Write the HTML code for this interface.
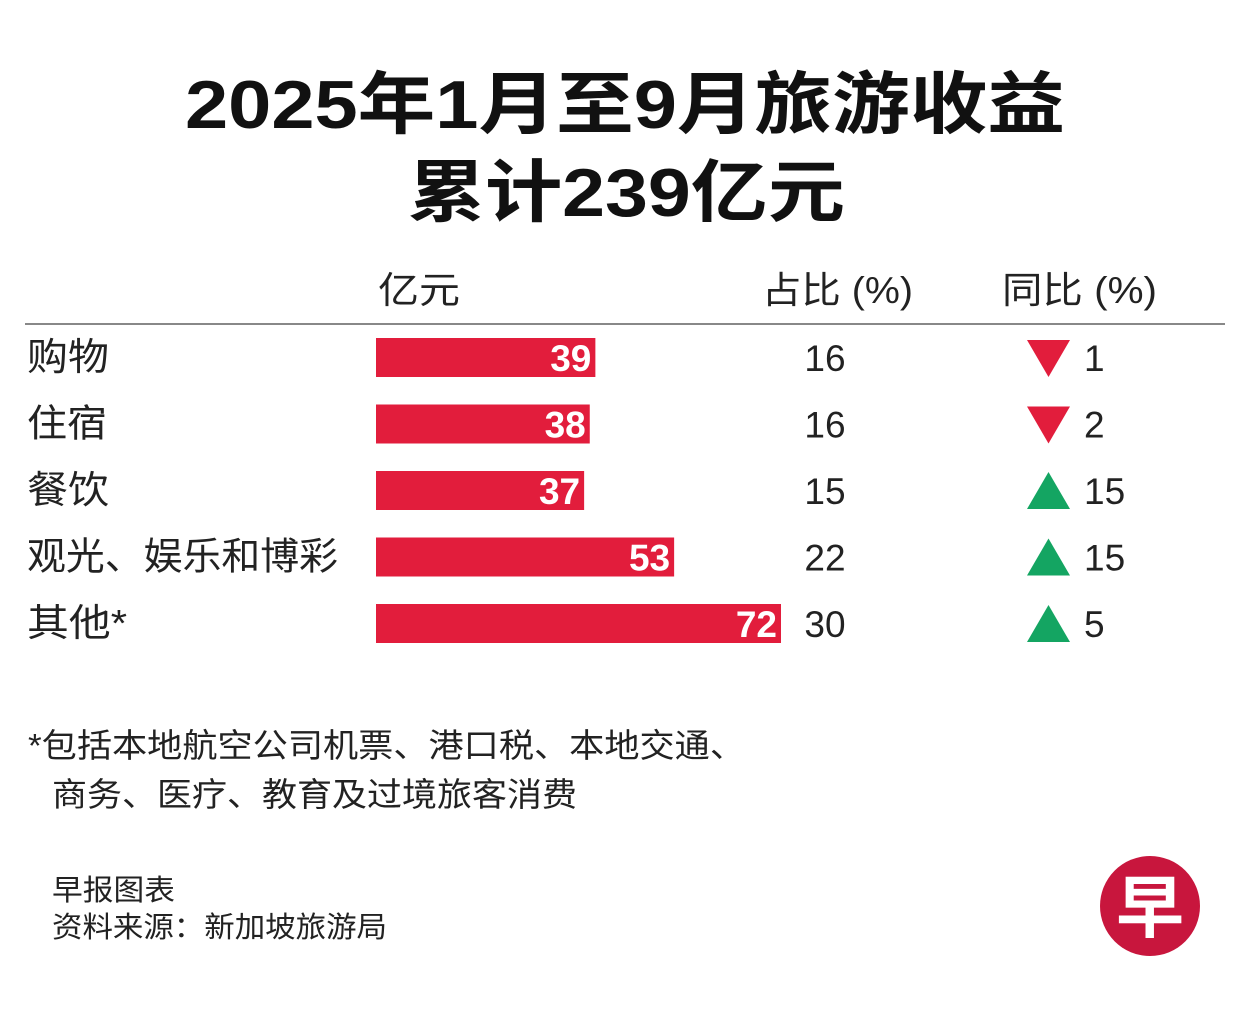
<!DOCTYPE html>
<html><head><meta charset="utf-8"><style>
body{margin:0;background:#fff;}
svg{display:block;font-family:"Liberation Sans","Noto Sans CJK SC",sans-serif;}
</style></head><body>
<svg id="c" width="1251" height="1009" viewBox="0 0 1251 1009">
<rect width="1251" height="1009" fill="#fff"/>
<text x="185" y="128" font-size="68" font-weight="bold" fill="#111" textLength="880" lengthAdjust="spacingAndGlyphs">2025年1月至9月旅游收益</text>
<text x="408" y="216" font-size="68" font-weight="bold" fill="#111" textLength="437" lengthAdjust="spacingAndGlyphs">累计239亿元</text>
<text x="378" y="303" font-size="37" fill="#222" textLength="82" lengthAdjust="spacingAndGlyphs">亿元</text>
<text x="762" y="303" font-size="37" fill="#222" textLength="151" lengthAdjust="spacingAndGlyphs">占比 (%)</text>
<text x="1002" y="303" font-size="37" fill="#222" textLength="155" lengthAdjust="spacingAndGlyphs">同比 (%)</text>
<line x1="25" y1="324" x2="1225" y2="324" stroke="#888" stroke-width="2"/>
<g id="rows"></g>
<text x="28" y="757" font-size="33" fill="#222" textLength="717" lengthAdjust="spacingAndGlyphs">*包括本地航空公司机票、港口税、本地交通、</text>
<text x="52" y="806" font-size="33" fill="#222" textLength="525" lengthAdjust="spacingAndGlyphs">商务、医疗、教育及过境旅客消费</text>
<text x="52" y="900" font-size="29" fill="#222" textLength="123" lengthAdjust="spacingAndGlyphs">早报图表</text>
<text x="52" y="937" font-size="29" fill="#222" textLength="335" lengthAdjust="spacingAndGlyphs">资料来源：新加坡旅游局</text>
<g>
<circle cx="1150" cy="906" r="50" fill="#c8163d"/>
<text x="1150" y="932" text-anchor="middle" font-size="68" font-weight="bold" fill="#fff">早</text>
</g>
</svg>
<script>
const categories=["购物","住宿","餐饮","观光、娱乐和博彩","其他*"];
const values=[39,38,37,53,72];
const shares=[16,16,15,22,30];
const yoy=[1,2,15,15,5];
const yoyDir=["down","down","up","up","up"];
const labelWidths=[82,80,82,311,100];
const ns="http://www.w3.org/2000/svg";
const g=document.getElementById("rows");
const x0=376,scale=405/72;
const xFn=v=>x0+v*scale;
const yFn=i=>357+i*66.5;
function mk(tag,attrs,txt){const e=document.createElementNS(ns,tag);for(const k in attrs)e.setAttribute(k,attrs[k]);if(txt!==undefined)e.textContent=txt;g.appendChild(e);return e;}
categories.forEach((c,i)=>{
 const cy=yFn(i);
 const l=mk("text",{x:27,y:cy+13,"font-size":38,fill:"#222",textLength:labelWidths[i],lengthAdjust:"spacingAndGlyphs"},c);
 
 
 const b=mk("rect",{x:x0,y:cy-19,width:xFn(values[i])-x0,height:39,fill:"#e21d3c"});
 
 
 const bv=mk("text",{x:xFn(values[i])-4,y:cy+14,"text-anchor":"end","font-size":37,"font-weight":"bold",fill:"#fff"},values[i]);
 
 
 const s=mk("text",{x:825,y:cy+14,"text-anchor":"middle","font-size":37,fill:"#222"},shares[i]);
 
 
 const pts=yoyDir[i]==="down"?`1027,${cy-17} 1070,${cy-17} 1048.5,${cy+20}`:`1027,${cy+19} 1070,${cy+19} 1048.5,${cy-18}`;
 const t=mk("polygon",{points:pts,fill:yoyDir[i]==="down"?"#e21d3c":"#14a562"});
 
 
 const y=mk("text",{x:1084,y:cy+14,"font-size":37,fill:"#222"},yoy[i]);
 
 
});
</script>
</body></html>
